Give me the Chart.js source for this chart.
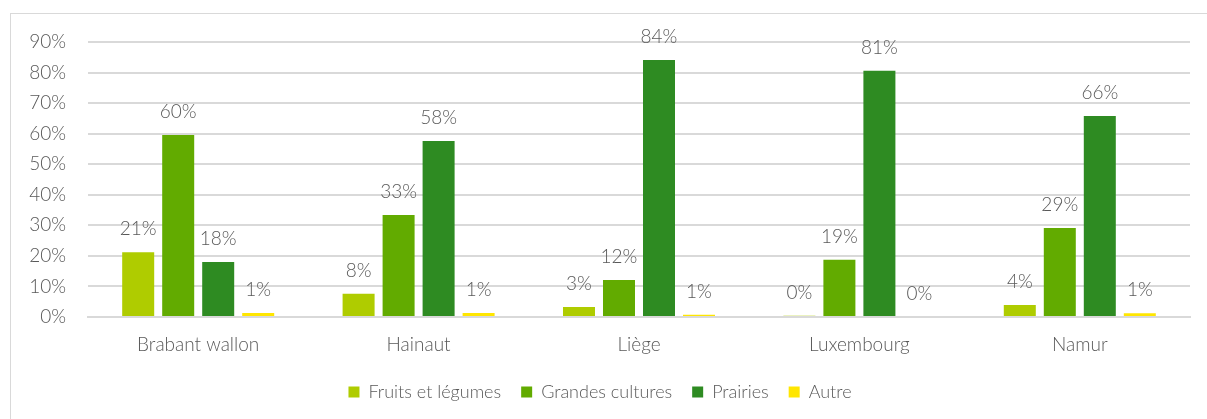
<!DOCTYPE html>
<html>
<head>
<meta charset="utf-8">
<script src="https://cdn.jsdelivr.net/npm/chart.js@4"></script>
<style>
  html, body { margin: 0; padding: 0; background: #fff; }
  #wrap { position: relative; width: 1207px; height: 419px; }
  #frame { position: absolute; left: 10px; top: 13px; right: -2px; bottom: -2px; border: 1px solid #d9d9d9; }
  canvas { position: absolute; left: 0; top: 0; }
</style>
</head>
<body>
<div id="wrap">
  <div id="frame"></div>
  <canvas id="chart" width="1207" height="419"></canvas>
</div>
<script>
const provinces = ["Brabant wallon", "Hainaut", "Liège", "Luxembourg", "Namur"];
const fruitsLegumes = [21.2, 7.6, 3.3, 0.4, 3.9];
const grandesCultures = [59.6, 33.4, 12.1, 18.7, 29.1];
const prairies = [18.0, 57.6, 84.1, 80.6, 65.8];
const autre = [1.3, 1.3, 0.7, 0.0, 1.2];
const yTicks = [0, 10, 20, 30, 40, 50, 60, 70, 80, 90];

const textColor = "#595959";
const fontFamily = "Lato, 'Open Sans', sans-serif";
const baseFont = { family: fontFamily, size: 19, weight: 300 };

// draws the % value above each bar
const valueLabels = {
  id: "valueLabels",
  afterDatasetsDraw(chart) {
    const ctx = chart.ctx;
    ctx.save();
    ctx.fillStyle = textColor;
    ctx.font = "300 19px " + fontFamily;
    ctx.textAlign = "center";
    ctx.textBaseline = "middle";
    chart.data.datasets.forEach((ds, i) => {
      chart.getDatasetMeta(i).data.forEach((bar, j) => {
        ctx.fillText(Math.round(ds.data[j]) + "%", bar.x, bar.y - 23);
      });
    });
    ctx.restore();
  }
};

new Chart(document.getElementById("chart"), {
  type: "bar",
  data: {
    labels: provinces,
    datasets: [
      { label: "Fruits et légumes", data: fruitsLegumes, backgroundColor: "#afcc00" },
      { label: "Grandes cultures", data: grandesCultures, backgroundColor: "#62ab00" },
      { label: "Prairies", data: prairies, backgroundColor: "#2e8b22" },
      { label: "Autre", data: autre, backgroundColor: "#ffe600" },
    ],
  },
  options: {
    responsive: false,
    animation: false,
    layout: { padding: { left: 10, right: 17, top: 42, bottom: 8 } },
    datasets: { bar: { categoryPercentage: 0.726, barPercentage: 0.8 } },
    plugins: {
      tooltip: { enabled: false },
      legend: {
        position: "bottom",
        labels: {
          color: textColor,
          font: { family: fontFamily, size: 18, weight: 300 },
          boxWidth: 11,
          boxHeight: 11,
          padding: 20,
        },
      },
    },
    scales: {
      x: {
        grid: { display: false },
        border: { color: "#d9d9d9", width: 2 },
        ticks: { color: textColor, font: baseFont, padding: 8 },
        afterFit(scale) { scale.height = 46; },
      },
      y: {
        min: 0,
        max: 90,
        afterBuildTicks(scale) { scale.ticks = yTicks.map(v => ({ value: v })); },
        grid: { color: "#d9d9d9", lineWidth: 2, drawTicks: false },
        border: { display: false },
        ticks: {
          color: textColor,
          font: baseFont,
          padding: 22,
          callback: v => v + "%",
        },
        afterFit(scale) { scale.width = 78; },
      },
    },
  },
  plugins: [valueLabels],
});
</script>
</body>
</html>
